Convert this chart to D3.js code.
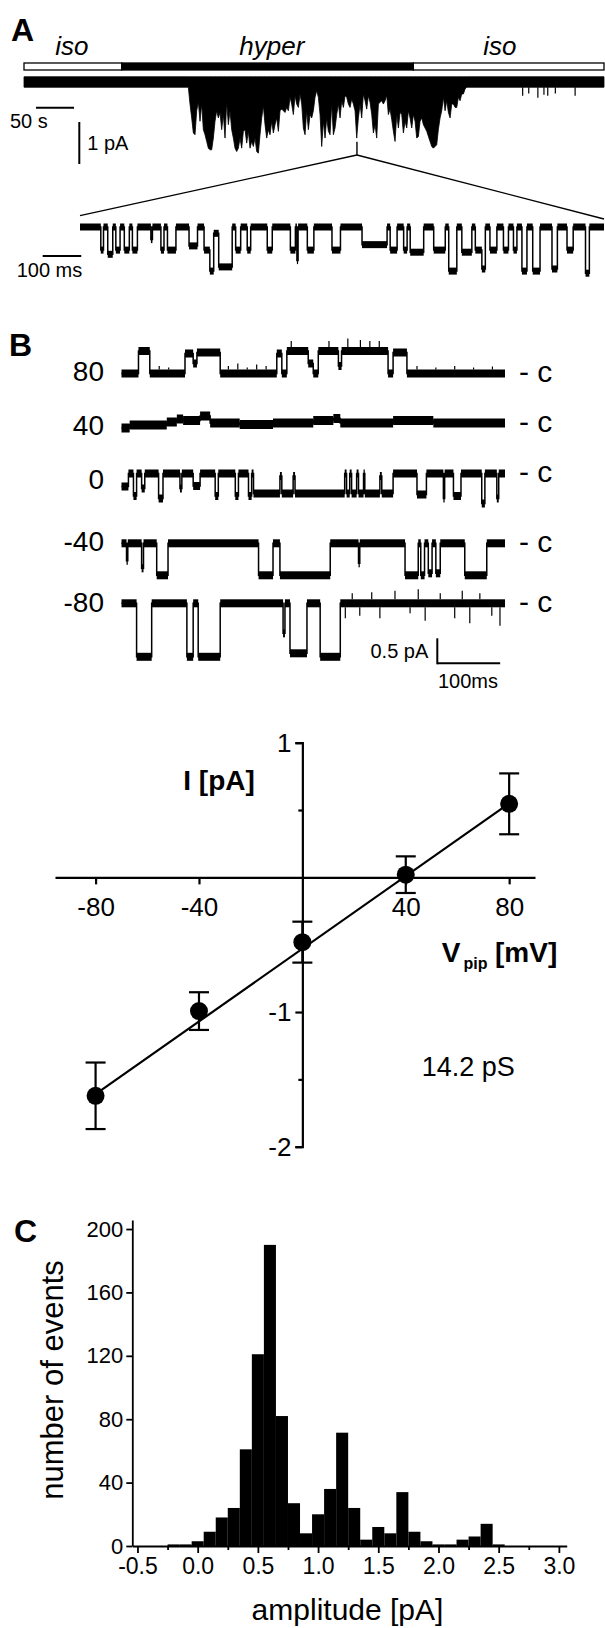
<!DOCTYPE html>
<html>
<head>
<meta charset="utf-8">
<script src="https://cdn.jsdelivr.net/npm/d3@7"></script>
<style>
  body { margin: 0; background: #fff; }
  svg { display: block; }
</style>
</head>
<body>
<svg id="fig" width="605" height="1628"></svg>
<script>
const FONT = '"Liberation Sans", Arial, Helvetica, sans-serif';

// ---- A: perfusion protocol (s) ----
const PERF_START = [0, 128.6, 512.2];
const PERF_END = [128.6, 512.2, 763];
const PERF_LABEL = ['iso', 'hyper', 'iso'];
const PERF_LABEL_T = [63, 326, 626];
const PERF_HYPER = [false, true, false];

// ---- A: long recording, inward current envelope (pA below closed level) ----
const LONG_DURATION = 763;
const LONG_T0 = 216.2;   // first envelope sample (s)
const LONG_DT = 2.193;   // sample spacing (s)
const LONG_DEPTH = [
  0, 0.40, 0.73, 1.09, 1.13, 0.56, 0.36, 0.81, 0.40, 1.01,
  1.13, 1.29, 1.45, 1.49, 1.49, 1.21, 0.81, 0.56, 0.73, 0.60,
  1.01, 0.65, 1.21, 0.36, 0.89, 0.56, 1.01, 1.21, 1.45, 1.53,
  1.45, 1.21, 1.45, 1.05, 1.01, 1.33, 1.05, 1.45, 1.29, 1.41,
  1.21, 1.53, 1.57, 1.13, 0.73, 0.44, 0.89, 1.21, 1.01, 1.13,
  0.81, 1.09, 0.89, 0.73, 1.05, 0.56, 0.52, 0.56, 0.60, 0.48,
  0.56, 0.24, 0.40, 0.65, 0.20, 0.40, 0.48, 0.16, 0.40, 0.97,
  1.13, 0.56, 1.01, 0.65, 0.73, 0.56, 0.24, 0.08, 0.24, 0.65,
  1.41, 0.81, 1.21, 0.73, 1.05, 1.13, 0.40, 1.13, 0.97, 0.65,
  0.40, 0.73, 0.32, 0.48, 0.20, 0.24, 0.40, 0.48, 0.28, 0.40,
  0.56, 1.21, 0.73, 0.40, 0.73, 0.16, 0.32, 0.52, 0.20, 0.36,
  0.65, 1.09, 0.89, 1.21, 0.40, 0.36, 0.32, 0.40, 0.32, 0.20,
  0.65, 0.52, 0.77, 1.05, 1.29, 0.65, 0.97, 0.60, 0.65, 1.09,
  0.81, 0.97, 0.56, 0.73, 0.97, 0.65, 0.81, 1.21, 1.17, 0.81,
  0.73, 0.89, 0.97, 1.05, 1.17, 1.29, 1.41, 1.45, 1.41, 1.37,
  1.00, 0.73, 0.56, 0.24, 0.56, 0.32, 0.60, 0.73, 0.40, 0.40,
  0.48, 0.48, 0.24, 0.32, 0.16, 0.16, 0.04, 0
];
const LONG_SPIKE_T = [656, 664, 676, 684, 689, 699, 725];
const LONG_SPIKE_D = [0.2, 0.15, 0.25, 0.18, 0.2, 0.15, 0.2];
const NOISE_A = 0.125;
const ZOOM_T = 438;

// ---- A: expanded segment, single-channel steps (ms, pA) ----
const INSET_DURATION = 1360;
const INSET_T = [0, 54, 61, 72, 85, 93, 104, 115, 128, 136,
  149, 184, 188, 210, 218, 227, 249, 283, 305, 322,
  337, 347, 360, 395, 404, 417, 434, 443, 486, 499,
  546, 559, 563, 566, 590, 607, 654, 676, 732, 797,
  805, 823, 840, 849, 857, 892, 918, 948, 957, 978,
  991, 1017, 1026, 1043, 1052, 1064, 1082, 1099, 1112, 1125,
  1134, 1147, 1160, 1175, 1194, 1225, 1239, 1264, 1280, 1312, 1322];
const INSET_I = [0, -0.55, 0, -0.65, 0, -0.55, 0, -0.55, 0, -0.55,
  0, -0.3, 0, -0.55, 0, -0.55, 0, -0.45, 0, -0.55,
  -1.05, -0.15, -0.95, 0, -0.55, 0, -0.55, 0, -0.55, 0,
  -0.55, 0, -0.8, 0, -0.55, 0, -0.55, 0, -0.42, 0,
  -0.55, 0, -0.55, 0, -0.6, 0, -0.55, 0, -1.05, 0,
  -0.6, 0, -0.55, -1.0, 0, -0.55, 0, -0.55, 0, -0.55,
  0, -1.05, 0, -1.05, 0, -1.0, 0, -0.55, 0, -1.1, 0];

// ---- B: traces at different pipette potentials (ms, pA) ----
const B_DURATION = 610;
const B_VOLTAGES = ['80', '40', '0', '-40', '-80'];
const T80_T = [0, 27, 45, 101, 114, 120, 157, 247, 255, 263, 297, 305, 313, 345, 350, 424, 432, 454];
const T80_I = [0, 0.45, 0, 0.4, 0.2, 0.42, 0, 0.4, 0, 0.45, 0.2, 0, 0.45, 0.15, 0.45, 0, 0.42, 0];
const T40_T = [0, 13, 72, 88, 98, 125, 141, 188, 241, 305, 337, 348, 432, 496];
const T40_I = [-0.1, -0.04, 0.02, 0.08, 0.05, 0.14, 0, -0.03, 0, 0.05, 0.09, 0, 0.05, 0];
const T0_T = [0, 11, 19, 24, 32, 37, 59, 66, 93, 96, 114, 125, 149, 154, 181, 186, 202, 207, 210, 252,
  255, 273, 276, 355, 358, 363, 366, 374, 377, 385, 387, 411, 414, 432, 470, 485, 512, 514, 528, 540,
  573, 578, 597, 600];
const T0_I = [-0.26, 0, -0.45, 0, -0.3, 0, -0.5, 0, -0.3, 0, -0.25, 0, -0.45, 0, -0.45, 0, -0.45, 0, -0.4, -0.05,
  -0.4, -0.05, -0.4, 0, -0.4, 0, -0.4, 0, -0.4, 0, -0.4, -0.05, -0.4, 0, -0.42, 0, -0.5, 0, -0.45, 0,
  -0.6, 0, -0.5, 0];
const TM40_T = [0, 8, 10, 32, 35, 56, 74, 218, 241, 252, 332, 377, 379, 451, 472, 476, 482, 488, 494, 500, 507, 546, 581];
const TM40_I = [0, -0.35, 0, -0.5, 0, -0.64, 0, -0.64, 0, -0.64, 0, -0.4, 0, -0.64, 0, -0.64, 0, -0.6, 0, -0.6, 0, -0.64, 0];
const TM80_T = [0, 24, 48, 104, 114, 122, 157, 257, 260, 268, 295, 316, 348];
const TM80_I = [0, -1.07, 0, -1.07, 0, -1.07, 0, -0.6, 0, -1.0, 0, -1.07, 0];
// brief noise excursions (ms, pA relative to the current level)
const S80_T = [60, 75, 170, 185, 200, 215, 230, 270, 330, 360, 380, 395, 410, 470, 500, 530, 560, 590];
const S80_I = [0.15, 0.12, 0.15, 0.2, 0.12, 0.18, 0.15, 0.2, 0.2, 0.25, 0.22, 0.2, 0.2, 0.15, 0.12, 0.15, 0.12, 0.14];
const SM80_T = [356, 367, 379, 398, 411, 435, 459, 472, 483, 507, 530, 542, 554, 570, 589, 602];
const SM80_I = [-0.3, 0.2, -0.25, 0.22, -0.3, 0.25, -0.2, 0.28, -0.35, 0.2, -0.3, 0.25, -0.4, 0.2, -0.25, -0.45];

// ---- B: current-voltage relation ----
const IV_V = [-80, -40, 0, 40, 80];
const IV_I = [-1.622, -0.993, -0.481, 0.02, 0.546];
const IV_ERR = [0.247, 0.14, 0.152, 0.136, 0.226];
const FIT_SLOPE = 0.0135;      // pA/mV
const FIT_INTERCEPT = -0.53;   // pA
const IV_XTICKS = [-80, -40, 40, 80];
const IV_YTICKS = [1, -1, -2];
const IV_YMINOR = [0.5, -0.5, -1.5];
const CONDUCTANCE = '14.2 pS';

// ---- C: amplitude histogram ----
const HIST_CENTERS = [-0.5, -0.4, -0.3, -0.2, -0.1, 0.0, 0.1, 0.2, 0.3, 0.4, 0.5, 0.6, 0.7, 0.8, 0.9,
  1.0, 1.1, 1.2, 1.3, 1.4, 1.5, 1.6, 1.7, 1.8, 1.9, 2.0, 2.1, 2.2, 2.3, 2.4, 2.5];
const HIST_COUNTS = [0, 0, 0, 1, 1, 3, 9, 18, 24, 61, 121, 190, 82, 27, 8,
  20, 36, 71.5, 24, 4, 12, 8, 34, 9, 3, 1, 1, 4, 6, 14, 1];
const HIST_BIN = 0.1;
const HIST_XTICKS = [-0.5, 0, 0.5, 1, 1.5, 2, 2.5, 3];
const HIST_XMINOR = [-0.25, 0.25, 0.75, 1.25, 1.75, 2.25, 2.75];
const HIST_YTICKS = [0, 40, 80, 120, 160, 200];

const svg = d3.select('#fig');
svg.append('rect').attr('width', 605).attr('height', 1628).attr('fill', '#fff');

function addText(x, y, str, size, opts = {}) {
    return svg.append('text')
        .attr('x', x).attr('y', y)
        .attr('font-family', FONT)
        .attr('font-size', size)
        .attr('font-weight', opts.bold ? 'bold' : null)
        .attr('font-style', opts.italic ? 'italic' : null)
        .attr('text-anchor', opts.anchor || 'start')
        .attr('fill', '#000')
        .text(str);
}

function line(x1, y1, x2, y2, w) {
    svg.append('line')
        .attr('x1', x1).attr('y1', y1).attr('x2', x2).attr('y2', y2)
        .attr('stroke', '#000').attr('stroke-width', w);
}

// step trace: noise band on each plateau plus thin transitions
function drawSteps(ts, is, tEnd, x, y, band) {
    const g = svg.append('g');
    g.selectAll('rect').data(ts).join('rect')
        .attr('x', t => x(t))
        .attr('width', (t, i) => Math.max(0.8, x(i < ts.length - 1 ? ts[i + 1] : tEnd) - x(t)))
        .attr('y', (t, i) => y(is[i]) - band / 2)
        .attr('height', band)
        .attr('fill', '#000');
    const pts = ts.map((t, i) => [t, is[i]]).concat([[tEnd, is[is.length - 1]]]);
    g.append('path')
        .attr('d', d3.line().x(d => x(d[0])).y(d => y(d[1])).curve(d3.curveStepAfter)(pts))
        .attr('fill', 'none').attr('stroke', '#000').attr('stroke-width', 1.5);
    return g;
}

function drawSpikes(ts, is, sT, sI, x, y, band) {
    sT.forEach((t, k) => {
        const lvl = is[Math.max(0, d3.bisectRight(ts, t) - 1)];
        const dir = sI[k] > 0 ? -1 : 1;
        line(x(t), y(lvl) + dir * band / 2, x(t), y(lvl + sI[k]), 1.2);
    });
}

// ================= Panel A =================
addText(11, 41, 'A', 32, { bold: true });

const xLong = d3.scaleLinear().domain([0, LONG_DURATION]).range([24, 604]);
const yLong = d3.scaleLinear().domain([0, -1]).range([82, 124]);

// perfusion bar
PERF_START.forEach((s, i) => {
    svg.append('rect')
        .attr('x', xLong(s)).attr('y', 63)
        .attr('width', xLong(PERF_END[i]) - xLong(s)).attr('height', 7)
        .attr('fill', PERF_HYPER[i] ? '#000' : '#fff')
        .attr('stroke', '#000').attr('stroke-width', 1.3);
    addText(xLong(PERF_LABEL_T[i]), 55, PERF_LABEL[i], 26, { italic: true, anchor: 'middle' });
});

// long trace
const longPts = [[0, 0]]
    .concat(LONG_DEPTH.map((d, i) => [LONG_T0 + i * LONG_DT, d]))
    .concat([[LONG_DURATION, 0]]);
svg.append('path')
    .attr('d', d3.area()
        .x(d => xLong(d[0]))
        .y0(() => yLong(NOISE_A))
        .y1(d => yLong(-NOISE_A - d[1]))(longPts))
    .attr('fill', '#000').attr('stroke', '#000').attr('stroke-width', 0.8);
LONG_SPIKE_T.forEach((t, i) => line(xLong(t), yLong(-NOISE_A), xLong(t), yLong(-NOISE_A - LONG_SPIKE_D[i]), 1.2));

// scale bars of the long trace
line(36, 107.7, 36 + xLong(50) - xLong(0), 107.7, 2);
addText(10, 128.3, '50 s', 20);
line(79.3, 164, 79.3, 164 - (yLong(-1) - yLong(0)), 2);
addText(87.3, 150, '1 pA', 20);

// expanded segment
const xInset = d3.scaleLinear().domain([0, INSET_DURATION]).range([80, 604]);
const yInset = d3.scaleLinear().domain([0, -1]).range([227, 269]);
const zx = xLong(ZOOM_T);
line(zx, 141.7, zx, 155, 1.4);
line(zx, 155, xInset(0), 215.7, 1.3);
line(zx, 155, xInset(INSET_DURATION), 219, 1.3);
drawSteps(INSET_T, INSET_I, INSET_DURATION, xInset, yInset, 7);
line(42.7, 256, 42.7 + xInset(100) - xInset(0), 256, 2);
addText(16.7, 276.7, '100 ms', 20);

// ================= Panel B traces =================
addText(9, 356, 'B', 32, { bold: true });

const xB = d3.scaleLinear().domain([0, B_DURATION]).range([121.5, 505]);
const B_ROW_Y = [373.5, 423, 473.5, 543.3, 603.3];
const B_LABEL_Y = [381, 435, 489, 551, 612];
const B_TRACES = [[T80_T, T80_I], [T40_T, T40_I], [T0_T, T0_I], [TM40_T, TM40_I], [TM80_T, TM80_I]];
const B_BAND = [8, 9, 8, 8, 8];
const B_PX_PER_PA = 50;

B_TRACES.forEach(([ts, is], r) => {
    const y = d3.scaleLinear().domain([0, 1]).range([B_ROW_Y[r], B_ROW_Y[r] - B_PX_PER_PA]);
    drawSteps(ts, is, B_DURATION, xB, y, B_BAND[r]);
    if (r === 0) drawSpikes(ts, is, S80_T, S80_I, xB, y, B_BAND[r]);
    if (r === 4) drawSpikes(ts, is, SM80_T, SM80_I, xB, y, B_BAND[r]);
    addText(104, B_LABEL_Y[r], B_VOLTAGES[r], 28, { anchor: 'end' });
    addText(519, B_ROW_Y[r] + 8.5, '- c', 30);
});

// scale bars B
const sbx = 437.3, sby = 663.3;
line(sbx, sby + 1, sbx, sby - 0.5 * B_PX_PER_PA, 2);
line(sbx, sby, sbx + xB(100) - xB(0), sby, 2);
addText(428.3, 658, '0.5 pA', 20, { anchor: 'end' });
addText(438, 688.3, '100ms', 20);

// ================= Panel B: I-V =================
const xIV = d3.scaleLinear().domain([-95.7, 90]).range([55, 535]);
const yIV = d3.scaleLinear().domain([-2, 1]).range([1146.7, 742.7]);

function styleAxis(g, size, w) {
    g.attr('font-family', FONT).attr('font-size', size);
    g.selectAll('path, line').attr('stroke', '#000').attr('stroke-width', w);
    g.selectAll('text').attr('fill', '#000');
}

const ivY = svg.append('g').attr('transform', `translate(${xIV(0)},0)`)
    .call(d3.axisLeft(yIV).tickValues(IV_YTICKS).tickSize(7).tickSizeOuter(7).tickPadding(4).tickFormat(d => String(d)));
styleAxis(ivY, 26, 2.2);
const ivYm = svg.append('g').attr('transform', `translate(${xIV(0)},0)`)
    .call(d3.axisLeft(yIV).tickValues(IV_YMINOR).tickSize(4).tickFormat(''));
ivYm.select('.domain').remove();
styleAxis(ivYm, 26, 2.2);

const ivX = svg.append('g').attr('transform', `translate(0,${yIV(0)})`)
    .call(d3.axisBottom(xIV).tickValues(IV_XTICKS).tickSize(7).tickSizeOuter(0).tickPadding(13).tickFormat(d => String(d)));
styleAxis(ivX, 26, 2.2);

// fit line
svg.append('path')
    .attr('d', d3.line().x(v => xIV(v)).y(v => yIV(FIT_SLOPE * v + FIT_INTERCEPT))([IV_V[0], IV_V[IV_V.length - 1]]))
    .attr('stroke', '#000').attr('stroke-width', 2.2).attr('fill', 'none');

// error bars and points
IV_V.forEach((v, i) => {
    const x = xIV(v);
    const yt = yIV(IV_I[i] + IV_ERR[i]), yb = yIV(IV_I[i] - IV_ERR[i]);
    line(x, yt, x, yb, 2.2);
    line(x - 10, yt, x + 10, yt, 2.2);
    line(x - 10, yb, x + 10, yb, 2.2);
});
svg.append('g').selectAll('circle').data(IV_V).join('circle')
    .attr('cx', v => xIV(v))
    .attr('cy', (v, i) => yIV(IV_I[i]))
    .attr('r', 9)
    .attr('fill', '#000');

addText(183.3, 790, 'I [pA]', 28, { bold: true });
const vLab = svg.append('text').attr('font-family', FONT).attr('font-weight', 'bold').attr('fill', '#000');
vLab.append('tspan').attr('x', 441.7).attr('y', 961.7).attr('font-size', 28).text('V');
vLab.append('tspan').attr('x', 463.5).attr('y', 969).attr('font-size', 16).text('pip');
vLab.append('tspan').attr('x', 495).attr('y', 961.7).attr('font-size', 28).text('[mV]');
addText(421.7, 1075.7, CONDUCTANCE, 27);

// ================= Panel C =================
addText(14, 1242, 'C', 32, { bold: true });

const xH = d3.scaleLinear().domain([-0.543, 3.065]).range([132.3, 566.7]);
const yH = d3.scaleLinear().domain([0, 205.7]).range([1546, 1220]);

svg.append('g').selectAll('rect')
    .data(HIST_CENTERS.map((c, i) => ({ c, n: HIST_COUNTS[i] })).filter(d => d.n > 0))
    .join('rect')
    .attr('x', d => xH(d.c - HIST_BIN / 2))
    .attr('width', d => xH(d.c + HIST_BIN / 2) - xH(d.c - HIST_BIN / 2))
    .attr('y', d => yH(d.n))
    .attr('height', d => yH(0) - yH(d.n))
    .attr('fill', '#000');

const hY = svg.append('g').attr('transform', `translate(${xH.range()[0]},0)`)
    .call(d3.axisLeft(yH).tickValues(HIST_YTICKS).tickSize(6).tickSizeOuter(0).tickPadding(3).tickFormat(d => String(d)));
styleAxis(hY, 22, 1.8);
const hX = svg.append('g').attr('transform', `translate(0,${yH(0)})`)
    .call(d3.axisBottom(xH).tickValues(HIST_XTICKS).tickSize(7).tickSizeOuter(0).tickPadding(5).tickFormat(d => d.toFixed(1)));
styleAxis(hX, 23, 1.8);
const hXm = svg.append('g').attr('transform', `translate(0,${yH(0)})`)
    .call(d3.axisBottom(xH).tickValues(HIST_XMINOR).tickSize(4).tickFormat(''));
hXm.select('.domain').remove();
styleAxis(hXm, 23, 1.8);

addText(347.5, 1620, 'amplitude [pA]', 30, { anchor: 'middle' });
addText(0, 0, 'number of events', 31, { anchor: 'middle' })
    .attr('transform', 'translate(63,1380) rotate(-90)');
</script>
</body>
</html>
